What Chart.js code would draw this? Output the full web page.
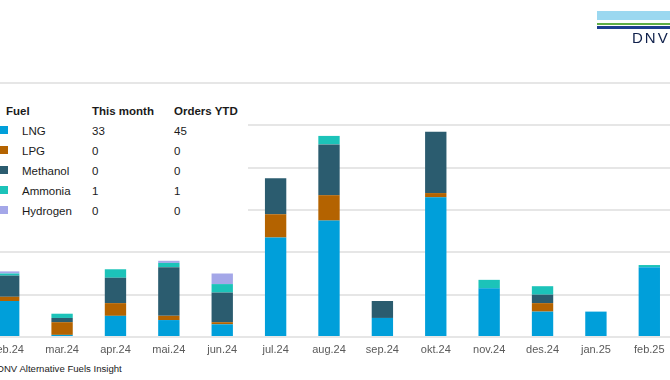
<!DOCTYPE html>
<html>
<head>
<meta charset="utf-8">
<script src="https://cdn.jsdelivr.net/npm/chart.js@4/dist/chart.umd.min.js"></script>
<style>
  html, body { margin: 0; padding: 0; background: #fff; overflow: hidden; }
  body { width: 670px; height: 380px; position: relative; font-family: "Liberation Sans", Arial, sans-serif; }
  #wrap { position: absolute; left: -18px; top: 0; width: 694px; height: 357px; }
  #legend { position: absolute; left: 0; top: 92px; width: 248px; height: 132px; background: #fff; font-size: 11.5px; color: #1a1a1a; }
  #legend div.t { position: absolute; white-space: nowrap; line-height: 14px; }
  #legend .sq { position: absolute; width: 8px; height: 8px; }
  #footer { position: absolute; left: -3px; top: 363px; font-size: 9.6px; color: #222; white-space: nowrap; line-height: 12px; }
  .logo { position: absolute; }
  #dnv { position: absolute; left: 632px; top: 30px; font-size: 15px; color: #0f204b; letter-spacing: 2px; line-height: 16px; white-space: nowrap; }
</style>
</head>
<body>
<div id="wrap"><canvas id="c"></canvas></div>
<div id="legend"></div>
<div id="footer">DNV Alternative Fuels Insight</div>
<div class="logo" style="left:597px;top:11px;width:73px;height:9px;background:#9bd8f0;"></div>
<div class="logo" style="left:597px;top:23px;width:73px;height:2px;background:#5fae46;"></div>
<div class="logo" style="left:597px;top:26px;width:73px;height:3px;background:#1d3f8f;"></div>
<div id="dnv">DNV</div>
<script>
const months = ["feb.24","mar.24","apr.24","mai.24","jun.24","jul.24","aug.24","sep.24","okt.24","nov.24","des.24","jan.25","feb.25"];
const fuels = ["LNG","LPG","Methanol","Ammonia","Hydrogen"];
const colors = ["#009fda","#b46300","#2b5c6f","#1cc3b9","#a4a7e8"];
const lng      = [17, 1, 10,  8,  6, 47, 55, 9, 66, 23, 12, 12, 33];
const lpg      = [ 2, 6,  6,  2,  1, 11, 12, 0,  2,  0,  4,  0,  0];
const methanol = [10, 2, 12, 23, 14, 17, 24, 8, 29,  0,  4,  0,  0];
const ammonia  = [ 1, 2,  4,  2,  4,  0,  4, 0,  0,  4,  4,  0,  1];
const hydrogen = [ 1, 0,  0,  1,  5,  0,  0, 0,  0,  0,  0,  0,  0];
const thisMonth = [33, 0, 0, 1, 0];
const ordersYTD = [45, 0, 0, 1, 0];
const yMax = 120, yStep = 20;

const series = [lng, lpg, methanol, ammonia, hydrogen];

// legend table
const lg = document.getElementById('legend');
function addText(txt, x, yc, bold) {
  const d = document.createElement('div');
  d.className = 't';
  d.textContent = txt;
  d.style.left = x + 'px';
  d.style.top = (yc - 92 - 7) + 'px';
  if (bold) d.style.fontWeight = 'bold';
  lg.appendChild(d);
}
addText("Fuel", 6, 111, true);
addText("This month", 92, 111, true);
addText("Orders YTD", 174, 111, true);
fuels.forEach((f, i) => {
  const yc = 131 + i * 20;
  const sq = document.createElement('div');
  sq.className = 'sq';
  sq.style.left = '0px';
  sq.style.top = (yc - 92 - 5) + 'px';
  sq.style.background = colors[i];
  lg.appendChild(sq);
  addText(f, 22, yc, false);
  addText(String(thisMonth[i]), 92, yc, false);
  addText(String(ordersYTD[i]), 174, yc, false);
});

new Chart(document.getElementById('c'), {
  type: 'bar',
  data: {
    labels: months,
    datasets: fuels.map((f, i) => ({
      label: f,
      data: series[i],
      backgroundColor: colors[i],
      borderWidth: 0,
      barPercentage: 0.4,
      categoryPercentage: 1.0
    }))
  },
  options: {
    responsive: true,
    maintainAspectRatio: false,
    animation: false,
    layout: { padding: { top: 83, left: 0, right: 0, bottom: 0 } },
    plugins: { legend: { display: false }, tooltip: { enabled: false } },
    scales: {
      x: {
        stacked: true,
        grid: { display: false, drawTicks: false },
        border: { display: false },
        ticks: { color: '#5a5a5a', font: { family: '"Liberation Sans", Arial, sans-serif', size: 11 }, padding: 6, maxRotation: 0, autoSkip: false },
        afterFit: s => { s.height = 20; }
      },
      y: {
        stacked: true,
        min: 0, max: yMax,
        ticks: { display: false, stepSize: yStep },
        grid: { color: '#e6e6e6', lineWidth: 2, drawTicks: false },
        border: { display: false },
        afterFit: s => { s.width = 0; }
      }
    }
  }
});
</script>
</body>
</html>
